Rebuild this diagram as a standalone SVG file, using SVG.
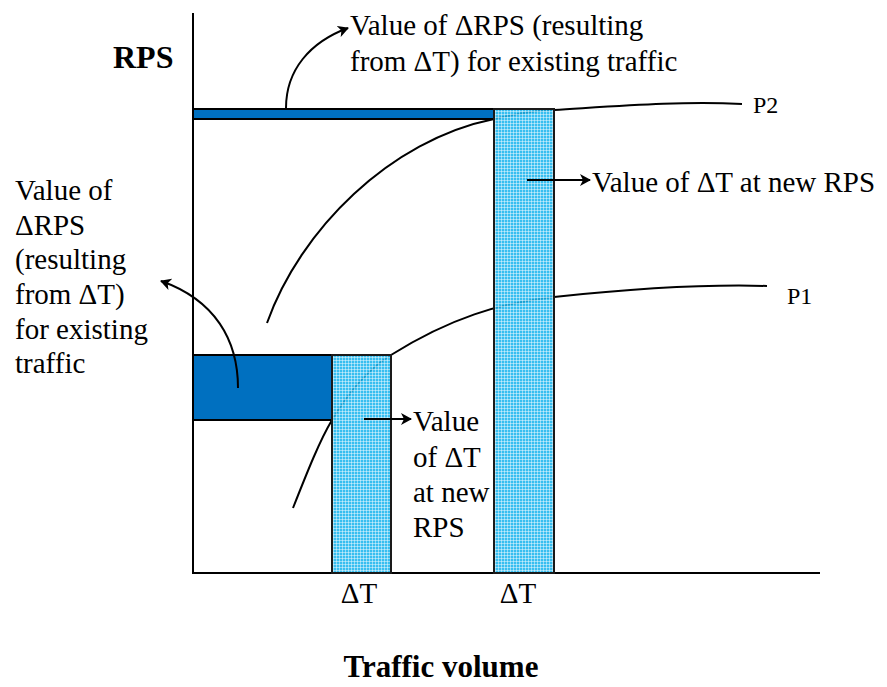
<svg xmlns="http://www.w3.org/2000/svg" width="887" height="687" viewBox="0 0 887 687" font-family="Liberation Serif, DejaVu Serif, Times New Roman, serif">
<style>
text{font-family:"Liberation Serif","DejaVu Serif","Times New Roman",serif;font-size:29px;fill:#000}
.b{font-weight:bold;font-size:32px}
.p{font-size:24px}
.ax{stroke:#000;stroke-width:2;fill:none}
.cv{stroke:#000;stroke-width:2;fill:none}
.ar{stroke:#000;stroke-width:2;fill:none;marker-end:url(#ah)}
.dk{fill:#0070C0;stroke:#000;stroke-width:2}
.lt{fill:url(#grid);stroke:#1a1a1a;stroke-width:2}
</style>
<defs>
<pattern id="grid" width="3" height="3" patternUnits="userSpaceOnUse">
<rect width="3" height="3" fill="#1BB5EE" fill-opacity="0.88"/>
<path d="M0,0.5H3M0.5,0V3" stroke="#ffffff" stroke-opacity="0.45" stroke-width="1"/>
</pattern>
<marker id="ah" markerWidth="12" markerHeight="12" refX="10" refY="6" orient="auto" markerUnits="userSpaceOnUse">
<path d="M0,0 L11,6 L0,12 L3,6 Z" fill="#000"/>
</marker>
</defs>
<g id="axes">
<path class="ax" d="M193,13 V573 H820"/>
</g>
<g id="curves">
<path class="cv" d="M267,323 C300,230 390,140 494,119 C520,113 540,110 554,110 C620,106 680,101 742,104"/>
<path class="cv" d="M293,508 C308,470 320,440 332,420 C350,390 370,368 391,355 C450,318 500,303 554,297 C620,290 700,284 767,286"/>
</g>
<g id="bar-top"><rect class="dk" x="193" y="109" width="301" height="10"/></g>
<g id="bar-low"><rect class="dk" x="193" y="355" width="139" height="65"/></g>
<g id="col-low"><rect class="lt" x="332" y="355" width="59" height="218"/></g>
<g id="col-high"><rect class="lt" x="494" y="109" width="60" height="464"/></g>
<g id="connectors">
<path class="ar" d="M286,108 C286,70 310,42 348,28"/>
<path class="ar" d="M238,388 C238,340 215,300 161,281"/>
<path class="ar" d="M364,419 H411"/>
<path class="ar" d="M527,180 H590"/>
</g>
<g id="labels">
<text class="b" x="113" y="68">RPS</text>
<text x="350" y="35">Value of ΔRPS (resulting</text>
<text x="350" y="71">from ΔT) for existing traffic</text>
<text class="p" x="753" y="113">P2</text>
<text class="p" x="787" y="304">P1</text>
<text x="592" y="192">Value of ΔT at new RPS</text>
<text x="15" y="200">Value of</text>
<text x="15" y="235">ΔRPS</text>
<text x="15" y="269">(resulting</text>
<text x="15" y="304">from ΔT)</text>
<text x="15" y="339">for existing</text>
<text x="15" y="373">traffic</text>
<text x="413" y="431">Value</text>
<text x="413" y="467">of ΔT</text>
<text x="413" y="502">at new</text>
<text x="413" y="537">RPS</text>
<text x="359" y="603" text-anchor="middle">ΔT</text>
<text x="518" y="603" text-anchor="middle">ΔT</text>
<text class="b" x="441" y="677" text-anchor="middle" style="font-size:31px">Traffic volume</text>
</g>
</svg>
